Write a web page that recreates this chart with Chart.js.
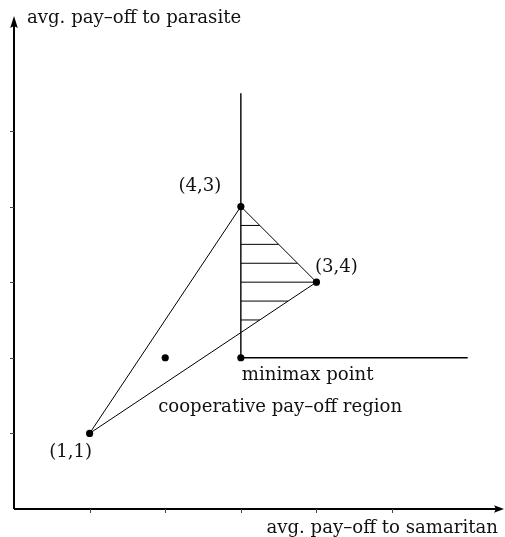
<!DOCTYPE html>
<html><head><meta charset="utf-8">
<script src="https://cdn.jsdelivr.net/npm/chart.js@4"></script>
<style>html,body{margin:0;padding:0;background:#fff}canvas{display:block}</style>
</head><body>
<canvas id="c" width="505" height="537"></canvas>
<script>
// ---- data ----
const xAxisMax = 6.48;
const yAxisMax = 6.52;
const xTickValues = [1, 2, 3, 4, 5];
const yTickValues = [1, 2, 3, 4, 5];
const triangleX = [1, 3, 4, 1];
const triangleY = [1, 4, 3, 1];
const verticalX = [3, 3];
const verticalY = [2, 5.5];
const horizontalX = [3, 6];
const horizontalY = [2, 2];
const hatchY = [2.5, 2.75, 3, 3.25, 3.5, 3.75];
const hatchXStart = [3, 3, 3, 3, 3, 3];
const hatchXEnd = [3.25, 3.625, 4, 3.75, 3.5, 3.25];
const dotX = [1, 3, 4, 2, 3];
const dotY = [1, 4, 3, 2, 2];
const pointLabels = ['(1,1)', '(4,3)', '(3,4)'];
const xTitle = 'avg. pay–off to samaritan';
const yTitle = 'avg. pay–off to parasite';
const minimaxLabel = 'minimax point';
const regionLabel = 'cooperative pay–off region';

// ---- datasets ----
const pts = (xs, ys) => xs.map((x, i) => ({x, y: ys[i]}));
const lineDs = (data, w) => ({type: 'line', data, borderColor: '#000', borderWidth: w, pointRadius: 0, fill: false, tension: 0, showLine: true});
const datasets = [];
hatchY.forEach((y, i) => datasets.push(lineDs(pts([hatchXStart[i], hatchXEnd[i]], [y, y]), 1)));
datasets.push(lineDs(pts(triangleX, triangleY), 1));
datasets.push(lineDs(pts(verticalX, verticalY), 1.4));
datasets.push(lineDs(pts(horizontalX, horizontalY), 1.4));
datasets.push({type: 'scatter', data: pts(dotX, dotY), pointRadius: 3.6, pointBackgroundColor: '#000', pointBorderWidth: 0, showLine: false});

const FONT_FAMILY = '"DejaVu Serif", serif';
function fitFont(ctx) {
  ctx.font = '100px ' + FONT_FAMILY;
  const w = ctx.measureText(regionLabel).width;
  return (100 * 244 / w);
}

const decor = {
  id: 'decor',
  afterDraw(chart) {
    const ctx = chart.ctx;
    const xs = chart.scales.x, ys = chart.scales.y;
    const px = v => xs.getPixelForValue(v), py = v => ys.getPixelForValue(v);
    ctx.save();
    ctx.strokeStyle = '#000';
    ctx.fillStyle = '#000';
    // axes
    ctx.lineWidth = 2;
    const x0 = px(0), y0 = py(0), xe = px(xAxisMax), ye = py(yAxisMax);
    ctx.beginPath();
    ctx.moveTo(x0, y0); ctx.lineTo(xe - 6, y0);
    ctx.moveTo(x0, y0); ctx.lineTo(x0, ye + 6);
    ctx.stroke();
    // arrowheads
    ctx.beginPath();
    ctx.moveTo(xe, y0); ctx.lineTo(xe - 10, y0 - 3.8); ctx.lineTo(xe - 8, y0); ctx.lineTo(xe - 10, y0 + 3.8); ctx.closePath();
    ctx.fill();
    ctx.beginPath();
    ctx.moveTo(x0, ye); ctx.lineTo(x0 - 3.8, ye + 12); ctx.lineTo(x0, ye + 10); ctx.lineTo(x0 + 3.8, ye + 12); ctx.closePath();
    ctx.fill();
    // ticks
    ctx.lineWidth = 1;
    ctx.strokeStyle = '#444';
    ctx.beginPath();
    xTickValues.forEach(v => { const x = Math.round(px(v)) + 0.5; ctx.moveTo(x, y0); ctx.lineTo(x, y0 + 4); });
    yTickValues.forEach(v => { const y = Math.round(py(v)) + 0.5; ctx.moveTo(x0, y); ctx.lineTo(x0 - 4, y); });
    ctx.stroke();
    // text
    const fs = fitFont(ctx);
    ctx.font = fs.toFixed(2) + 'px ' + FONT_FAMILY;
    ctx.fillStyle = '#111';
    ctx.textBaseline = 'middle';
    ctx.textAlign = 'center';
    ctx.fillText(pointLabels[0], px(1) - 19, py(1) + 19);
    ctx.fillText(pointLabels[1], px(3) - 41, py(4) - 20);
    ctx.fillText(pointLabels[2], px(4) + 20, py(3) - 15);
    ctx.fillText(regionLabel, px(3.52), py(1.35));
    ctx.textAlign = 'left';
    ctx.fillText(minimaxLabel, px(3) + 1, py(2) + 18);
    ctx.fillText(yTitle, x0 + 13, ye + 2);
    ctx.textAlign = 'right';
    ctx.fillText(xTitle, xe - 6, y0 + 19);
    ctx.restore();
  }
};

new Chart(document.getElementById('c'), {
  type: 'scatter',
  data: {datasets},
  options: {
    responsive: false,
    animation: false,
    devicePixelRatio: 1,
    layout: {autoPadding: false, padding: {left: 14, right: 1, top: 16, bottom: 28}},
    plugins: {legend: {display: false}, tooltip: {enabled: false}},
    scales: {
      x: {type: 'linear', min: 0, max: xAxisMax, display: false},
      y: {type: 'linear', min: 0, max: yAxisMax, display: false}
    }
  },
  plugins: [decor]
});
</script>
</body></html>
